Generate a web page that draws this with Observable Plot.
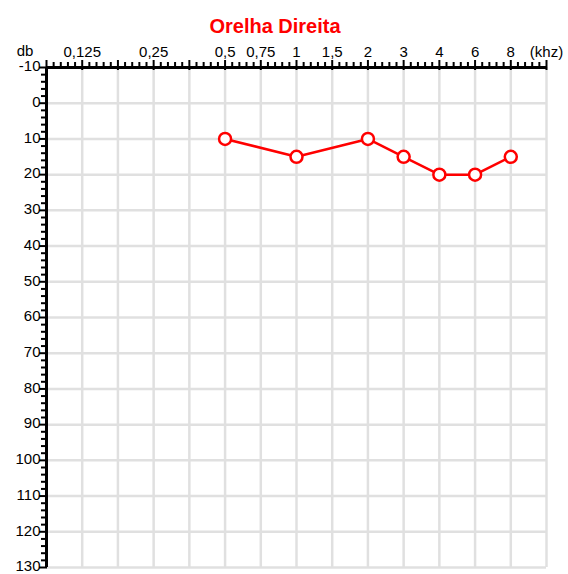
<!DOCTYPE html>
<html>
<head>
<meta charset="utf-8">
<script src="https://cdn.jsdelivr.net/npm/d3@7"></script>
<script src="https://cdn.jsdelivr.net/npm/@observablehq/plot@0.6"></script>
<style>
  html, body { margin: 0; padding: 0; background: white; }
</style>
</head>
<body>
<div id="chart"></div>
<script>
// Frequency slots (kHz) along the top axis; unlabeled slots are blank
const xTickLabels = ["", "0,125", "", "0,25", "", "0,5", "0,75", "1", "1,5", "2", "3", "4", "6", "8", "(khz)"];
// Measured thresholds (Orelha Direita)
const freqs = ["0,5", "1", "2", "3", "4", "6", "8"];
const dbValues = [10, 15, 10, 15, 20, 20, 15];
// Hearing level ticks (dB)
const yTickValues = [-10, 0, 10, 20, 30, 40, 50, 60, 70, 80, 90, 100, 110, 120, 130];
const title = "Orelha Direita";
const yUnit = "db";

const xSlots = xTickLabels.map((_, i) => i);
const xMinor = d3.range(0, xSlots.length - 1, 0.2).filter(v => Math.abs(v - Math.round(v)) > 1e-6);
const yMinor = d3.range(-10, 130, 2).filter(v => v % 10 !== 0);
const data = freqs.map((f, i) => ({x: xTickLabels.indexOf(f), y: dbValues[i]}));

const chart = Plot.plot({
  width: 568,
  height: 574,
  marginTop: 67,
  marginLeft: 46,
  marginRight: 22,
  marginBottom: 7,
  style: {fontFamily: "'Liberation Sans', Arial, sans-serif", fontSize: "15px", background: "white", overflow: "visible"},
  x: {type: "linear", domain: [0, 14], axis: null},
  y: {domain: [-10, 130], reverse: true, axis: null},
  marks: [
    Plot.gridX(xSlots, {stroke: "#e0e0e0", strokeOpacity: 1, strokeWidth: 2.5}),
    Plot.gridY(yTickValues, {stroke: "#e0e0e0", strokeOpacity: 1, strokeWidth: 2.5}),
    // axis lines
    Plot.ruleY([-10], {stroke: "black", strokeWidth: 3}),
    Plot.ruleX([0], {stroke: "black", strokeWidth: 3, y1: -10, y2: 130}),
    // minor ticks
    Plot.ruleX(xMinor, {x: d => d, y1: -10, y2: -10, insetTop: -5, stroke: "black", strokeWidth: 2}),
    Plot.ruleY(yMinor, {y: d => d, x1: 0, x2: 0, insetLeft: -5, stroke: "black", strokeWidth: 2}),
    // major ticks
    Plot.ruleX(xSlots, {x: d => d, y1: -10, y2: -10, insetTop: -7, insetBottom: -3, stroke: "black", strokeWidth: 2}),
    Plot.ruleY(yTickValues, {y: d => d, x1: 0, x2: 0, insetLeft: -7, insetRight: -1, stroke: "black", strokeWidth: 2}),
    // tick labels
    Plot.text(xSlots.filter(i => xTickLabels[i] !== ""), {x: d => d, y: -10, text: d => xTickLabels[d], lineAnchor: "bottom", dy: -11, fontSize: 15, fill: "black"}),
    Plot.text(yTickValues, {x: 0, y: d => d, text: d => String(d), textAnchor: "end", lineAnchor: "middle", dx: -6, dy: -1, fontSize: 15, fill: "black"}),
    Plot.text([yUnit], {x: 0, y: -10, text: d => d, lineAnchor: "bottom", dx: -21.5, dy: -12, fontSize: 15, fill: "black"}),
    // title
    Plot.text([title], {frameAnchor: "top", text: d => d, lineAnchor: "bottom", dx: -21.5, dy: -35, fontSize: 20, fontWeight: "bold", fill: "#ff0000"}),
    // data
    Plot.line(data, {x: "x", y: "y", stroke: "#ff0000", strokeWidth: 2.5}),
    Plot.dot(data, {x: "x", y: "y", r: 6, fill: "white", stroke: "#ff0000", strokeWidth: 2.5})
  ]
});
document.getElementById("chart").appendChild(chart);
</script>
</body>
</html>
